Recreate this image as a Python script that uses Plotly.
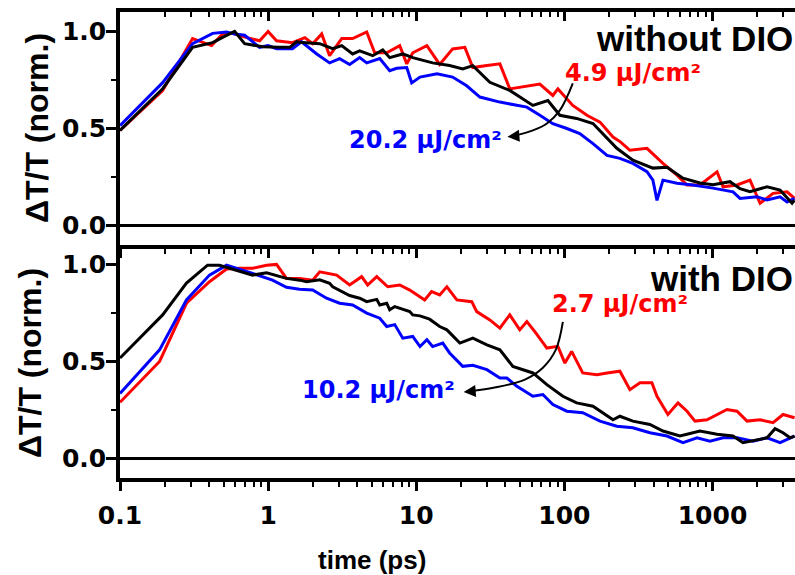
import math
import plotly.graph_objects as go

# ---------------- data ----------------
# top panel: without DIO
top_black_t = [0.1,0.194,0.309,0.422,0.524,0.594,0.694,0.918,1.20,1.40,1.56,1.63,2.23,2.73,3.14,3.72,4.15,5.08,5.94,6.62,8.11,9.47,12.9,16.8,20.6,24.1,31.4,42.8,61.3,77.4,93.2,121,156,190,226,290,396,493,632,823,1008,1313,1534,1792,2335,2859,3445,3580]
top_black_v = [0.49,0.705,0.918,0.942,0.98,1.0,0.937,0.921,0.918,0.918,0.947,0.944,0.937,0.911,0.927,0.884,0.90,0.875,0.905,0.865,0.884,0.865,0.838,0.824,0.807,0.824,0.738,0.696,0.619,0.644,0.568,0.552,0.526,0.46,0.398,0.337,0.296,0.30,0.244,0.219,0.21,0.226,0.19,0.174,0.20,0.183,0.115,0.13]

top_red_t = [0.1,0.194,0.309,0.415,0.493,0.576,0.716,0.876,1.0,1.14,1.46,1.77,2.00,2.30,2.60,3.14,3.72,4.63,5.24,6.32,7.74,8.63,9.47,11.8,14.4,17.6,21.3,24.1,30.0,36.7,42.8,55.8,68.3,83.6,90.4,114,142,174,213,240,277,361,463,576,673,823,1073,1178,1464,1792,2094,2564,3188,3580]
top_red_v = [0.49,0.695,0.963,0.927,0.987,0.99,0.968,0.952,1.0,0.952,0.942,0.968,0.937,0.987,0.875,0.963,0.963,0.997,0.89,0.89,0.927,0.833,0.89,0.927,0.83,0.91,0.918,0.814,0.824,0.833,0.704,0.72,0.729,0.67,0.704,0.619,0.568,0.533,0.456,0.43,0.388,0.398,0.32,0.26,0.209,0.209,0.277,0.20,0.209,0.234,0.115,0.166,0.174,0.14]

top_blue_t = [0.1,0.194,0.309,0.422,0.524,0.594,0.694,0.876,1.0,1.14,1.46,1.68,2.13,2.60,3.04,3.55,4.15,4.63,5.67,6.62,7.38,8.63,9.32,10.6,13.8,17.6,21.9,26.9,36.7,55.8,68.3,83.6,104,127,156,194,237,290,361,396,422,463,576,738,1008,1376,1534,1998,2335,2859,3188,3580]
top_blue_v = [0.515,0.736,0.937,0.99,0.997,0.987,0.98,0.918,0.927,0.911,0.911,0.947,0.884,0.838,0.86,0.83,0.865,0.838,0.86,0.798,0.81,0.814,0.735,0.765,0.782,0.765,0.72,0.662,0.636,0.61,0.568,0.525,0.50,0.474,0.422,0.361,0.346,0.32,0.278,0.234,0.13,0.234,0.218,0.209,0.193,0.174,0.14,0.148,0.132,0.148,0.122,0.14]

# bottom panel: with DIO
bot_black_t = [0.1,0.194,0.281,0.390,0.470,0.786,0.977,1.33,1.63,1.82,2.23,2.60,2.73,3.55,4.15,4.63,5.41,5.67,6.32,6.62,7.16,9.04,9.47,10.6,12.3,14.4,16.1,19.7,24.1,30.0,36.7,44.9,61.3,76.2,97.7,121,156,213,237,290,378,463,603,823,1073,1376,1607,2094,2335,2644,2995,3339,3580]
bot_black_v = [0.518,0.74,0.904,0.996,0.996,0.945,0.957,0.928,0.919,0.911,0.921,0.903,0.885,0.84,0.826,0.808,0.82,0.791,0.80,0.766,0.783,0.757,0.74,0.735,0.718,0.68,0.663,0.595,0.62,0.586,0.56,0.475,0.441,0.381,0.321,0.287,0.27,0.20,0.218,0.193,0.176,0.142,0.116,0.142,0.125,0.116,0.082,0.099,0.107,0.154,0.133,0.107,0.116]

bot_red_t = [0.1,0.185,0.281,0.402,0.524,0.642,0.786,0.977,1.14,1.33,1.63,2.00,2.23,2.90,3.55,4.28,4.70,5.41,6.42,7.74,9.04,11.4,12.7,14.4,16.1,18.8,23.7,25.6,31.4,36.7,42.8,50.0,55.8,63.2,76.2,90.4,100.8,112,133,166,194,237,277,324,390,422,500,585,673,762,918,1073,1253,1464,1711,2094,2564,2995,3580]
bot_red_v = [0.29,0.50,0.80,0.911,0.976,0.98,0.98,0.996,1.0,0.928,0.928,0.919,0.962,0.945,0.894,0.937,0.894,0.937,0.885,0.894,0.868,0.817,0.86,0.843,0.885,0.817,0.808,0.757,0.714,0.672,0.74,0.663,0.706,0.654,0.569,0.578,0.492,0.552,0.441,0.432,0.441,0.45,0.355,0.39,0.39,0.321,0.227,0.287,0.244,0.193,0.20,0.227,0.253,0.244,0.193,0.20,0.185,0.227,0.21]

bot_blue_t = [0.1,0.185,0.281,0.402,0.524,0.642,0.786,1.07,1.33,1.63,2.00,2.48,3.04,3.72,4.63,5.67,6.32,7.16,8.11,9.47,10.6,11.8,12.9,15.1,16.8,20.6,24.1,30.0,36.7,40.9,47.8,61.3,71.6,83.6,104,133,174,226,290,378,493,632,786,962,1178,1464,1877,2335,2859,3580]
bot_blue_v = [0.335,0.56,0.817,0.945,0.996,0.976,0.954,0.919,0.882,0.872,0.868,0.826,0.80,0.791,0.749,0.723,0.68,0.69,0.62,0.629,0.577,0.612,0.577,0.595,0.544,0.475,0.48,0.458,0.415,0.415,0.372,0.321,0.33,0.278,0.244,0.236,0.193,0.167,0.159,0.133,0.116,0.082,0.107,0.09,0.107,0.107,0.09,0.107,0.082,0.116]

# labels
x_ticks = [0.1, 1, 10, 100, 1000]
x_ticktext = ["0.1", "1", "10", "100", "1000"]
panel_titles = ["without DIO", "with DIO"]
top_labels = ["4.9 µJ/cm²", "20.2 µJ/cm²"]
bot_labels = ["2.7 µJ/cm²", "10.2 µJ/cm²"]

# curved pointer arrows (time, value) - decoration
top_arrow_t = [114, 93.2, 76.2, 61.3, 44.2]
top_arrow_v = [0.732, 0.593, 0.526, 0.49, 0.46]
bot_arrow_t = [97.7, 87.6, 71.6, 54.1, 33.9, 21.9]
bot_arrow_v = [0.704, 0.561, 0.468, 0.407, 0.366, 0.345]

RED = "#FF0000"
BLUE = "#0000FF"
BLACK = "#000000"
FONT = "Liberation Sans"
WIDE = "DejaVu Sans"

fig = go.Figure()

def add_line(t, v, color, xa, ya):
    fig.add_trace(go.Scatter(x=t, y=v, mode="lines", xaxis=xa, yaxis=ya,
                             line=dict(color=color, width=3), showlegend=False,
                             hoverinfo="skip"))

# draw order: red, blue, black (black on top)
add_line(top_red_t, top_red_v, RED, "x", "y")
add_line(top_blue_t, top_blue_v, BLUE, "x", "y")
add_line(top_black_t, top_black_v, BLACK, "x", "y")
add_line(bot_red_t, bot_red_v, RED, "x2", "y2")
add_line(bot_blue_t, bot_blue_v, BLUE, "x2", "y2")
add_line(bot_black_t, bot_black_v, BLACK, "x2", "y2")

# arrow curves
for t, v, xa, ya in [(top_arrow_t, top_arrow_v, "x", "y"), (bot_arrow_t, bot_arrow_v, "x2", "y2")]:
    fig.add_trace(go.Scatter(x=t, y=v, mode="lines", xaxis=xa, yaxis=ya,
                             line=dict(color=BLACK, width=2, shape="spline"),
                             showlegend=False, hoverinfo="skip"))

XR = [-1, 3.557]
YR = [-0.1, 1.1]
minor_x = [k * 10.0 ** d for d in range(-1, 4) for k in range(2, 10)]

xbase = dict(type="log", range=XR, showgrid=False, zeroline=False,
             showline=True, linecolor=BLACK, linewidth=3.5,
             tickvals=x_ticks, ticktext=x_ticktext,
             ticklen=9, tickwidth=3, tickcolor=BLACK,
             minor=dict(tickvals=minor_x, ticklen=5, tickwidth=2, tickcolor=BLACK, ticks="outside", showgrid=False))

ybase = dict(range=YR, showgrid=False, showline=True, linecolor=BLACK, linewidth=3.5,
             mirror=False, ticks="outside", ticklen=10, tickwidth=3, tickcolor=BLACK,
             dtick=0.5, tick0=0, tickformat=".1f", ticklabelstandoff=-5,
             zeroline=True, zerolinecolor=BLACK, zerolinewidth=3,
             tickfont=dict(family=WIDE, size=25, color=BLACK, weight="bold"),
             minor=dict(dtick=0.25, tick0=0, ticklen=5, tickwidth=2, tickcolor=BLACK, ticks="outside", showgrid=False))

PLOT_TOP, PLOT_BOT = 12, 478
PH = PLOT_BOT - PLOT_TOP

fig.update_layout(
    width=795, height=575,
    margin=dict(l=120, r=0, t=PLOT_TOP, b=575 - PLOT_BOT),
    paper_bgcolor="white", plot_bgcolor="white",
    font=dict(family=FONT, color=BLACK, weight="bold"),
    showlegend=False,
    xaxis=dict(xbase, anchor="y", domain=[0, 1], ticks="outside", showticklabels=False, mirror=True),
    xaxis3=dict(xbase, overlaying="x", anchor="y", side="top", ticks="inside", showticklabels=False,
                showline=False,
                minor=dict(tickvals=minor_x, ticklen=5, tickwidth=2, tickcolor=BLACK, ticks="inside", showgrid=False)),
    xaxis2=dict(xbase, anchor="y2", domain=[0, 1], ticks="outside", mirror=False, ticklabelstandoff=3,
                tickfont=dict(family=WIDE, size=25, color=BLACK, weight="bold")),
    yaxis=dict(ybase, anchor="x", domain=[0.5, 1]),
    yaxis2=dict(ybase, anchor="x2", domain=[0, 0.5]),
)
# dummy trace to activate xaxis3
fig.add_trace(go.Scatter(x=[1], y=[None], xaxis="x3", yaxis="y", showlegend=False, hoverinfo="skip"))

ann = []
# axis titles
ann.append(dict(text="ΔT/T (norm.)", xref="paper", yref="paper", x=(37 - 120) / 675, y=(PLOT_BOT - 128) / PH,
                xanchor="center", yanchor="middle",
                textangle=-90, showarrow=False, font=dict(family=FONT, size=32, weight="bold")))
ann.append(dict(text="ΔT/T (norm.)", xref="paper", yref="paper", x=(30 - 120) / 675, y=(PLOT_BOT - 363) / PH,
                xanchor="center", yanchor="middle",
                textangle=-90, showarrow=False, font=dict(family=FONT, size=32, weight="bold")))
ann.append(dict(text="time (ps)", xref="paper", yref="paper", x=(372 - 120) / 675, y=(PLOT_BOT - 560) / PH,
                xanchor="center", yanchor="middle",
                showarrow=False, font=dict(family=FONT, size=26, weight="bold")))
# panel titles
ann.append(dict(text=panel_titles[0], xref="paper", yref="y", x=1.0, y=0.965, xanchor="right", yanchor="middle",
                showarrow=False, font=dict(family=FONT, size=35, weight="bold", color=BLACK)))
ann.append(dict(text=panel_titles[1], xref="paper", yref="y2", x=1.0, y=0.925, xanchor="right", yanchor="middle",
                showarrow=False, font=dict(family=FONT, size=35, weight="bold", color=BLACK)))
# fluence labels
lab_font = lambda c: dict(family=WIDE, size=24, weight="bold", color=c)
ann.append(dict(text=top_labels[0], xref="x", yref="y", x=(563 - 268.5) / 148, y=0.788, xanchor="left",
                yanchor="middle", showarrow=False, font=lab_font(RED)))
ann.append(dict(text=top_labels[1], xref="x", yref="y", x=(347 - 268.5) / 148, y=0.44, xanchor="left",
                yanchor="middle", showarrow=False, font=lab_font(BLUE)))
ann.append(dict(text=bot_labels[0], xref="x2", yref="y2", x=(550 - 268.5) / 148, y=0.796, xanchor="left",
                yanchor="middle", showarrow=False, font=lab_font(RED)))
ann.append(dict(text=bot_labels[1], xref="x2", yref="y2", x=(457 - 268.5) / 148, y=0.355, xanchor="right",
                yanchor="middle", showarrow=False, font=lab_font(BLUE)))
# arrow heads
ann.append(dict(text="", xref="x", yref="y", x=math.log10(top_arrow_t[-1]) - 0.03, y=top_arrow_v[-1] - 0.003,
                ax=12, ay=-1, showarrow=True, arrowhead=2, arrowsize=1.2, arrowwidth=2, arrowcolor=BLACK,
                standoff=0, startstandoff=0))
ann.append(dict(text="", xref="x2", yref="y2", x=math.log10(bot_arrow_t[-1]) - 0.02, y=bot_arrow_v[-1] - 0.002,
                ax=12, ay=-1, showarrow=True, arrowhead=2, arrowsize=1.2, arrowwidth=2, arrowcolor=BLACK,
                standoff=0, startstandoff=0))
fig.update_layout(annotations=ann)

fig.write_html("out.html")
